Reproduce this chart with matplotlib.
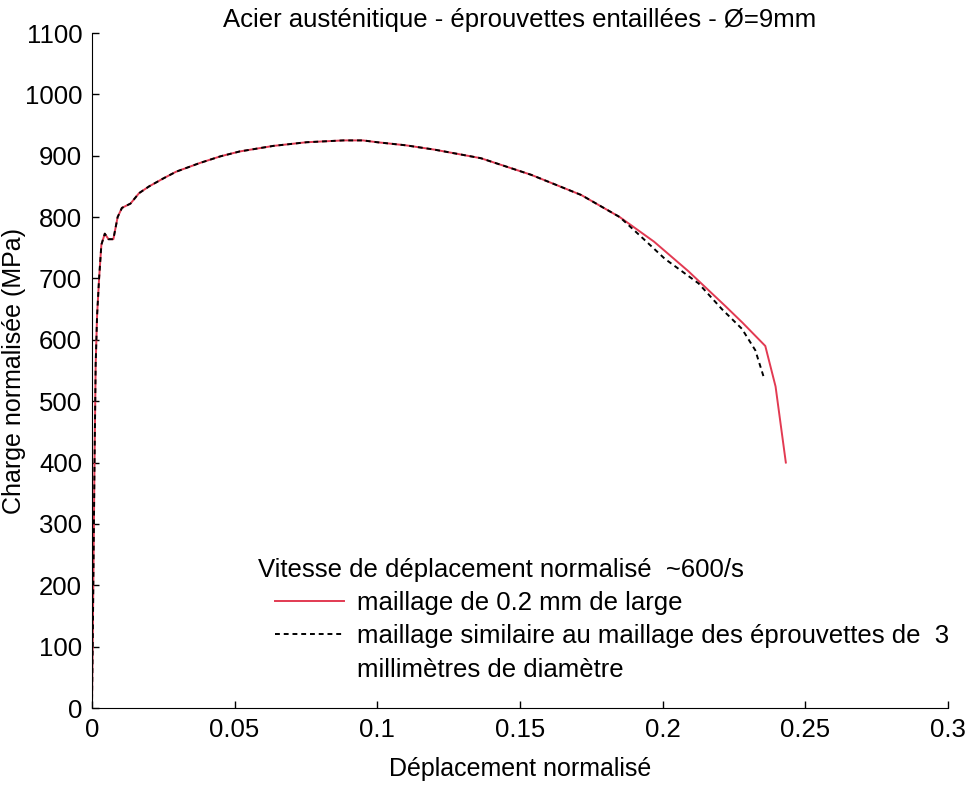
import matplotlib
matplotlib.use("Agg")
import matplotlib.pyplot as plt

plt.rcParams['font.family'] = ['Liberation Sans', 'DejaVu Sans']

# shared loading part of both simulations (normalised displacement, MPa)
x_common = [0, 0.0003, 0.0006, 0.0009, 0.0013, 0.0018, 0.0025, 0.0033, 0.0045,
            0.0058, 0.0075, 0.009, 0.0105, 0.0135, 0.0165, 0.02, 0.025, 0.0295,
            0.0377, 0.045, 0.0518, 0.0635, 0.0752, 0.0881, 0.095, 0.1, 0.11,
            0.12, 0.1363, 0.1539, 0.1715, 0.185]
y_common = [0, 120, 260, 400, 560, 640, 700, 755, 773,
            764, 764, 800, 815, 822, 839, 850, 863, 874,
            888, 899, 907, 916, 922, 925, 925, 922, 917,
            910, 896, 869, 836, 800]

# tails where the two meshes diverge
x_fine = [0.197, 0.209, 0.222, 0.228, 0.236, 0.2396, 0.2432]
y_fine = [760, 712, 655, 628, 590, 524, 400]
x_coarse = [0.1925, 0.2008, 0.2126, 0.2208, 0.2278, 0.2325, 0.2354]
y_coarse = [768, 732, 692, 650, 618, 583, 540]

x_ticks = [0, 0.05, 0.1, 0.15, 0.2, 0.25, 0.3]
x_ticklabels = ["0", "0.05", "0.1", "0.15", "0.2", "0.25", "0.3"]
y_ticks = list(range(0, 1101, 100))

fs = 18.5

fig = plt.figure(figsize=(9.71, 7.86), dpi=100)
ax = fig.add_axes([0.0947, 0.0992, 0.8815, 0.8588])

ax.plot(x_common + x_fine, y_common + y_fine, color='#e23a52', lw=1.4,
        label="maillage de 0.2 mm de large")
ax.plot(x_common + x_coarse, y_common + y_coarse, color='black', lw=1.4,
        ls=(0, (2.5, 2)), label="maillage similaire au maillage des éprouvettes de  3")
ax.plot([], [], color='none', label="millimètres de diamètre")

ax.set_xlim(0, 0.3)
ax.set_ylim(0, 1100)
ax.set_xticks(x_ticks)
ax.set_xticklabels(x_ticklabels)
ax.set_yticks(y_ticks)
ax.spines['top'].set_visible(False)
ax.spines['right'].set_visible(False)
ax.tick_params(direction='in', length=5, width=1, labelsize=18.5, pad=7)

ax.set_title("Acier austénitique - éprouvettes entaillées - Ø=9mm", fontsize=fs, pad=4)
ax.set_xlabel("Déplacement normalisé", fontsize=18, labelpad=11)
ax.set_ylabel("Charge normalisée (MPa)", fontsize=18, labelpad=-1)

ax.text(0.194, 0.204, "Vitesse de déplacement normalisé  ~600/s", fontsize=fs,
        transform=ax.transAxes, va='center', ha='left')
ax.legend(fontsize=fs, frameon=False, loc='lower left',
          bbox_to_anchor=(0.214, 0.039), handlelength=2.7, handletextpad=0.5,
          labelspacing=0.36, borderaxespad=0, borderpad=0)

fig.savefig("out.png", dpi=100)
